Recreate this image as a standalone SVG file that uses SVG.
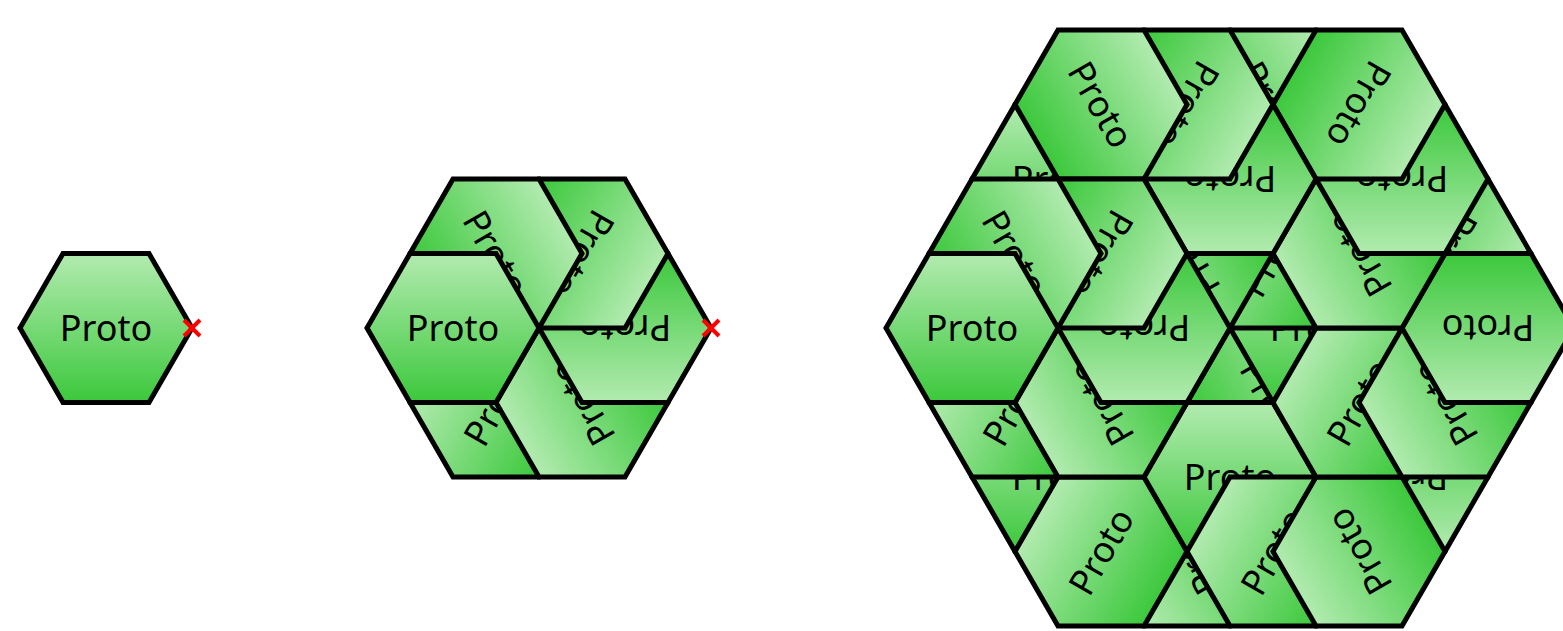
<svg xmlns="http://www.w3.org/2000/svg" xmlns:xlink="http://www.w3.org/1999/xlink" width="1563" height="631" viewBox="0 0 1563 631">
<style>
.hx{fill:url(#g);stroke:#000;stroke-width:5;stroke-linejoin:miter}
.lbl{font-family:"Noto Sans","Open Sans",sans-serif;font-size:36px;fill:#000;text-anchor:middle}
.x{stroke:#ff0000;stroke-width:4;fill:none}
</style>
<defs>
<linearGradient id="g" x1="0" y1="0" x2="0" y2="1">
<stop offset="0" stop-color="#b2ebb0"/>
<stop offset="1" stop-color="#3cc83c"/>
</linearGradient>
<path id="hex" d="M-86,0 L-43,-74.48 L43,-74.48 L86,0 L43,74.48 L-43,74.48 Z"/>
</defs>
<g id="level0">
<g id="n0" transform="translate(106,328)"><use href="#hex" class="hx"/><text class="lbl" x="0" y="13">Proto</text></g>
<path class="x" d="M184,320 L200,336 M184,336 L200,320"/>
</g>
<g id="level1">
<g id="n1-5" transform="translate(496,402.48) rotate(300)"><use href="#hex" class="hx"/><text class="lbl" x="0" y="13">Proto</text></g>
<g id="n1-4" transform="translate(582,402.48) rotate(240)"><use href="#hex" class="hx"/><text class="lbl" x="0" y="13">Proto</text></g>
<g id="n1-3" transform="translate(625,328) rotate(180)"><use href="#hex" class="hx"/><text class="lbl" x="0" y="13">Proto</text></g>
<g id="n1-2" transform="translate(582,253.52) rotate(120)"><use href="#hex" class="hx"/><text class="lbl" x="0" y="13">Proto</text></g>
<g id="n1-1" transform="translate(496,253.52) rotate(60)"><use href="#hex" class="hx"/><text class="lbl" x="0" y="13">Proto</text></g>
<g id="n1-0" transform="translate(453,328)"><use href="#hex" class="hx"/><text class="lbl" x="0" y="13">Proto</text></g>
<path class="x" d="M703,320 L719,336 M703,336 L719,320"/>
</g>
<g id="level2">
<g id="n2-5-5" transform="translate(1187,551.44) rotate(240)"><use href="#hex" class="hx"/><text class="lbl" x="0" y="13">Proto</text></g>
<g id="n2-5-4" transform="translate(1230,476.96) rotate(180)"><use href="#hex" class="hx"/><text class="lbl" x="0" y="13">Proto</text></g>
<g id="n2-5-3" transform="translate(1187,402.48) rotate(120)"><use href="#hex" class="hx"/><text class="lbl" x="0" y="13">Proto</text></g>
<g id="n2-5-2" transform="translate(1101,402.48) rotate(60)"><use href="#hex" class="hx"/><text class="lbl" x="0" y="13">Proto</text></g>
<g id="n2-5-1" transform="translate(1058,476.96)"><use href="#hex" class="hx"/><text class="lbl" x="0" y="13">Proto</text></g>
<g id="n2-5-0" transform="translate(1101,551.44) rotate(300)"><use href="#hex" class="hx"/><text class="lbl" x="0" y="13">Proto</text></g>

<g id="n2-4-5" transform="translate(1402,476.96) rotate(180)"><use href="#hex" class="hx"/><text class="lbl" x="0" y="13">Proto</text></g>
<g id="n2-4-4" transform="translate(1359,402.48) rotate(120)"><use href="#hex" class="hx"/><text class="lbl" x="0" y="13">Proto</text></g>
<g id="n2-4-3" transform="translate(1273,402.48) rotate(60)"><use href="#hex" class="hx"/><text class="lbl" x="0" y="13">Proto</text></g>
<g id="n2-4-2" transform="translate(1230,476.96)"><use href="#hex" class="hx"/><text class="lbl" x="0" y="13">Proto</text></g>
<g id="n2-4-1" transform="translate(1273,551.44) rotate(300)"><use href="#hex" class="hx"/><text class="lbl" x="0" y="13">Proto</text></g>
<g id="n2-4-0" transform="translate(1359,551.44) rotate(240)"><use href="#hex" class="hx"/><text class="lbl" x="0" y="13">Proto</text></g>

<g id="n2-3-5" transform="translate(1445,253.52) rotate(120)"><use href="#hex" class="hx"/><text class="lbl" x="0" y="13">Proto</text></g>
<g id="n2-3-4" transform="translate(1359,253.52) rotate(60)"><use href="#hex" class="hx"/><text class="lbl" x="0" y="13">Proto</text></g>
<g id="n2-3-3" transform="translate(1316,328)"><use href="#hex" class="hx"/><text class="lbl" x="0" y="13">Proto</text></g>
<g id="n2-3-2" transform="translate(1359,402.48) rotate(300)"><use href="#hex" class="hx"/><text class="lbl" x="0" y="13">Proto</text></g>
<g id="n2-3-1" transform="translate(1445,402.48) rotate(240)"><use href="#hex" class="hx"/><text class="lbl" x="0" y="13">Proto</text></g>
<g id="n2-3-0" transform="translate(1488,328) rotate(180)"><use href="#hex" class="hx"/><text class="lbl" x="0" y="13">Proto</text></g>

<g id="n2-2-5" transform="translate(1273,104.56) rotate(60)"><use href="#hex" class="hx"/><text class="lbl" x="0" y="13">Proto</text></g>
<g id="n2-2-4" transform="translate(1230,179.04)"><use href="#hex" class="hx"/><text class="lbl" x="0" y="13">Proto</text></g>
<g id="n2-2-3" transform="translate(1273,253.52) rotate(300)"><use href="#hex" class="hx"/><text class="lbl" x="0" y="13">Proto</text></g>
<g id="n2-2-2" transform="translate(1359,253.52) rotate(240)"><use href="#hex" class="hx"/><text class="lbl" x="0" y="13">Proto</text></g>
<g id="n2-2-1" transform="translate(1402,179.04) rotate(180)"><use href="#hex" class="hx"/><text class="lbl" x="0" y="13">Proto</text></g>
<g id="n2-2-0" transform="translate(1359,104.56) rotate(120)"><use href="#hex" class="hx"/><text class="lbl" x="0" y="13">Proto</text></g>

<g id="n2-1-5" transform="translate(1058,179.04)"><use href="#hex" class="hx"/><text class="lbl" x="0" y="13">Proto</text></g>
<g id="n2-1-4" transform="translate(1101,253.52) rotate(300)"><use href="#hex" class="hx"/><text class="lbl" x="0" y="13">Proto</text></g>
<g id="n2-1-3" transform="translate(1187,253.52) rotate(240)"><use href="#hex" class="hx"/><text class="lbl" x="0" y="13">Proto</text></g>
<g id="n2-1-2" transform="translate(1230,179.04) rotate(180)"><use href="#hex" class="hx"/><text class="lbl" x="0" y="13">Proto</text></g>
<g id="n2-1-1" transform="translate(1187,104.56) rotate(120)"><use href="#hex" class="hx"/><text class="lbl" x="0" y="13">Proto</text></g>
<g id="n2-1-0" transform="translate(1101,104.56) rotate(60)"><use href="#hex" class="hx"/><text class="lbl" x="0" y="13">Proto</text></g>

<g id="n2-0-5" transform="translate(1015,402.48) rotate(300)"><use href="#hex" class="hx"/><text class="lbl" x="0" y="13">Proto</text></g>
<g id="n2-0-4" transform="translate(1101,402.48) rotate(240)"><use href="#hex" class="hx"/><text class="lbl" x="0" y="13">Proto</text></g>
<g id="n2-0-3" transform="translate(1144,328) rotate(180)"><use href="#hex" class="hx"/><text class="lbl" x="0" y="13">Proto</text></g>
<g id="n2-0-2" transform="translate(1101,253.52) rotate(120)"><use href="#hex" class="hx"/><text class="lbl" x="0" y="13">Proto</text></g>
<g id="n2-0-1" transform="translate(1015,253.52) rotate(60)"><use href="#hex" class="hx"/><text class="lbl" x="0" y="13">Proto</text></g>
<g id="n2-0-0" transform="translate(972,328)"><use href="#hex" class="hx"/><text class="lbl" x="0" y="13">Proto</text></g>
</g>
</svg>
